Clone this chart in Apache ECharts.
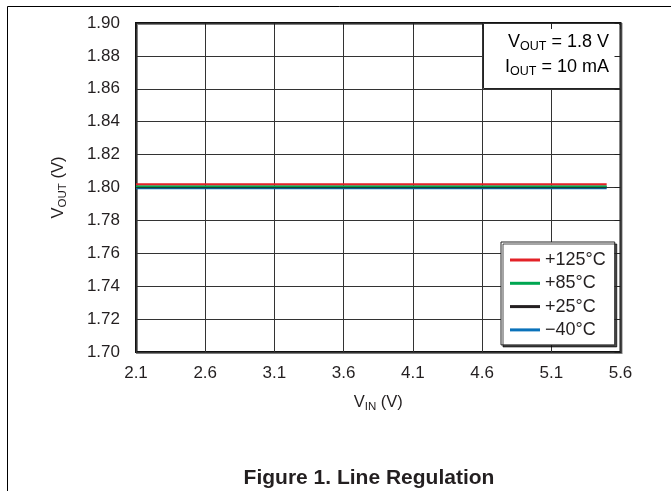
<!DOCTYPE html>
<html>
<head>
<meta charset="utf-8">
<script src="https://cdn.jsdelivr.net/npm/echarts@6/dist/echarts.min.js"></script>
<style>html,body{margin:0;padding:0;background:#fff;}#c{width:671px;height:491px;}</style>
</head>
<body>
<div id="c"></div>
<script>
// Data
const vin = [2.1, 2.5, 3.0, 3.5, 4.0, 4.5, 5.0, 5.5];
const vout125 = [1.8019, 1.8019, 1.8019, 1.8019, 1.8019, 1.8019, 1.8019, 1.8019];
const vout85  = [1.8008, 1.8008, 1.8008, 1.8008, 1.8008, 1.8008, 1.8008, 1.8008];
const vout25  = [1.8001, 1.8001, 1.8001, 1.8001, 1.8001, 1.8001, 1.8001, 1.8001];
const voutm40 = [1.7996, 1.7996, 1.7996, 1.7996, 1.7996, 1.7996, 1.7996, 1.7996];
const seriesNames = ['+125°C', '+85°C', '+25°C', '\u221240°C'];
const seriesColors = ['#e32228', '#00a651', '#231f20', '#0a72ba'];
const xTicks = [2.1, 2.6, 3.1, 3.6, 4.1, 4.6, 5.1, 5.6];
const yTicks = [1.70, 1.72, 1.74, 1.76, 1.78, 1.80, 1.82, 1.84, 1.86, 1.88, 1.90];

const FONT = '"Liberation Sans", Arial, Helvetica, sans-serif';
const TXT = '#231f20';
const pair = (xs, ys) => xs.map((x, i) => [x, ys[i]]);
const allY = [vout125, vout85, vout25, voutm40];

const chart = echarts.init(document.getElementById('c'));
const mkRich = (fs, ss) => ({
  v: {fontSize: fs, fontFamily: FONT, color: TXT, lineHeight: fs + 4},
  s: {fontSize: ss, fontFamily: FONT, color: TXT, lineHeight: ss - 1, verticalAlign: 'bottom'}
});
const gridLine = {show: true, lineStyle: {color: '#333', width: 1}};
chart.setOption({
  animation: false,
  backgroundColor: '#fff',
  grid: {left: 136, right: 50.5, top: 23, bottom: 139, show: true, borderColor: '#111', borderWidth: 2,
         shadowColor: 'rgba(0,0,0,0.5)', shadowOffsetX: 1, shadowOffsetY: 1, shadowBlur: 0, backgroundColor: 'transparent'},
  xAxis: [{
    type: 'value', min: xTicks[0], max: xTicks[xTicks.length - 1], interval: 0.5,
    axisLine: {show: false}, axisTick: {show: false},
    splitLine: gridLine,
    axisLabel: {fontSize: 17, fontFamily: FONT, color: TXT, margin: 13, formatter: v => v.toFixed(1)},
    name: '{v|V}{s|IN}{v| (V)}', nameLocation: 'middle', nameGap: 40,
    nameTextStyle: {rich: mkRich(16.5, 11.5)}
  }, {
    type: 'value', position: 'top', min: xTicks[0], max: xTicks[xTicks.length - 1], interval: 0.5,
    axisLine: {show: false}, axisTick: {show: true, inside: true, length: 6, lineStyle: {color: '#222'}},
    axisLabel: {show: false}, splitLine: {show: false}, z: 20
  }],
  yAxis: [{
    type: 'value', min: yTicks[0], max: yTicks[yTicks.length - 1], interval: 0.02,
    axisLine: {show: false}, axisTick: {show: false},
    splitLine: gridLine,
    axisLabel: {fontSize: 17, fontFamily: FONT, color: TXT, margin: 16, formatter: v => v.toFixed(2)},
    name: '{v|V}{s|OUT}{v| (V)}', nameLocation: 'middle', nameGap: 67, nameRotate: 90,
    nameTextStyle: {rich: mkRich(16.5, 11.5)}
  }, {
    type: 'value', position: 'right', min: yTicks[0], max: yTicks[yTicks.length - 1], interval: 0.02,
    axisLine: {show: false}, axisTick: {show: true, inside: true, length: 6, lineStyle: {color: '#222'}},
    axisLabel: {show: false}, splitLine: {show: false}, z: 20
  }],
  legend: {
    left: 501, top: 242, orient: 'vertical',
    padding: [8, 9, 5, 9], itemGap: 3.3, itemWidth: 30, itemHeight: 3, icon: 'rect',
    backgroundColor: '#fff', borderColor: '#222', borderWidth: 1,
    shadowColor: 'rgba(0,0,0,0.7)', shadowOffsetX: 2, shadowOffsetY: 2, shadowBlur: 0,
    textStyle: {fontSize: 18, fontFamily: FONT, color: TXT, lineHeight: 20},
    itemStyle: {borderWidth: 0},
    data: seriesNames
  },
  graphic: [
    {type: 'line', silent: true, z: 0, shape: {x1: 7.5, y1: 6.5, x2: 671, y2: 6.5}, style: {stroke: '#000', lineWidth: 1}},
    {type: 'line', silent: true, z: 0, shape: {x1: 7.5, y1: 6.5, x2: 7.5, y2: 491}, style: {stroke: '#000', lineWidth: 1}},
    {type: 'rect', silent: true, z: 10, shape: {x: 483, y: 24, width: 136, height: 64}, style: {fill: '#fff'}},
    {type: 'line', silent: true, z: 11, shape: {x1: 483.5, y1: 24, x2: 483.5, y2: 88.5}, style: {stroke: '#222', lineWidth: 1}},
    {type: 'line', silent: true, z: 11, shape: {x1: 483.5, y1: 88.5, x2: 620, y2: 88.5}, style: {stroke: '#222', lineWidth: 1}},
    {type: 'text', silent: true, z: 12, x: 609, y: 42,
     style: {text: '{v|V}{s|OUT}{v| = 1.8 V}', align: 'right', verticalAlign: 'middle', rich: mkRich(18, 12.5)}},
    {type: 'text', silent: true, z: 12, x: 609, y: 67,
     style: {text: '{v|I}{s|OUT}{v| = 10 mA}', align: 'right', verticalAlign: 'middle', rich: mkRich(18, 12.5)}},
    {type: 'text', silent: true, z: 12, x: 369, y: 478,
     style: {text: 'Figure 1. Line Regulation', align: 'center', verticalAlign: 'middle',
             font: 'bold 21px ' + FONT, fill: TXT}}
  ],
  series: [3, 2, 1, 0].map(i => ({
    name: seriesNames[i], type: 'line', data: pair(vin, allY[i]), symbol: 'none',
    lineStyle: {color: seriesColors[i], width: 2}, itemStyle: {color: seriesColors[i]}, z: 3
  }))
});
</script>
</body>
</html>
